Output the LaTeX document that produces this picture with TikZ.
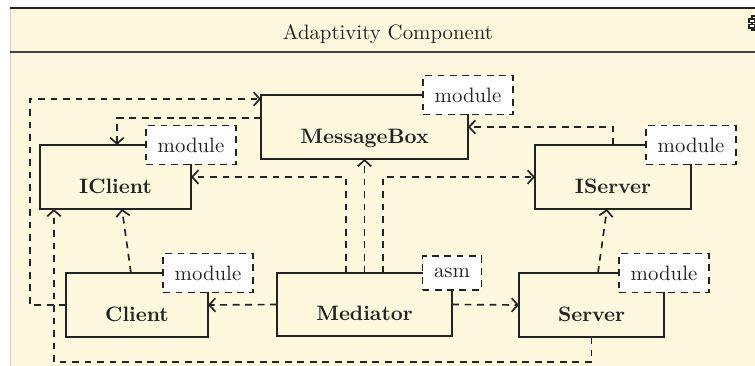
\documentclass[tikz,border=0pt]{standalone}
\usetikzlibrary{arrows.meta,calc}
\definecolor{bgc}{RGB}{253,248,222}
\definecolor{lc}{RGB}{35,35,35}
\tikzset{
  cls/.style={draw=lc, line width=0.85pt, fill=bgc, inner sep=0pt, outer sep=0pt},
  tagbox/.style={draw=lc, line width=0.85pt, dash pattern=on 3.3pt off 2.6pt, fill=white, inner xsep=5.5pt, inner ysep=5.8pt, outer sep=0pt, text=lc},
  lbl/.style={font=\bfseries, anchor=base, text=lc},
  dep/.style={draw=lc, line width=0.8pt, dash pattern=on 3.3pt off 2.7pt, -{Straight Barb[length=3pt,width=6.5pt]}},
}
\newcommand\umlcls[7]{%
  \node[cls, minimum width={(#4-#2)*0.48pt}, minimum height={(#5-#3)*0.48pt}] (#1) at ({(#2+#4)/2},{(#3+#5)/2}) {};
  \node[lbl] (#1-l) at ([yshift=-7.7pt]#1.center) {#6};
  \node[tagbox] (#1-t) at (#1.north east) {#7};
}
\begin{document}
\begin{tikzpicture}[x=0.48pt,y=-0.48pt]
\useasboundingbox (0,0) rectangle (755,366);
\clip (0,0) rectangle (755,366);
% frame
\fill[bgc] (10,8) rectangle (760,370);
\draw[black!20, line width=0.5pt] (10.5,9) -- (10.5,370);
\draw[lc, line width=1.4pt] (10,8) -- (760,8);
\draw[lc!85, line width=1pt] (10,52) -- (760,52);
\node[text=lc] (title) at (388,34) {Adaptivity Component};
% component icon (cut at the edge)
\draw[lc, line width=0.9pt, fill=bgc] (752,16) rectangle (762,30);
\draw[lc, line width=0.9pt, fill=bgc] (749,19) rectangle (755,22.5);
\draw[lc, line width=0.9pt, fill=bgc] (749,24.5) rectangle (755,28);
% classes
\umlcls{mb}{261}{95}{468}{159}{MessageBox}{module}
\umlcls{ic}{40}{145}{191}{209}{IClient}{module}
\umlcls{is}{535}{145}{691}{209}{IServer}{module}
\umlcls{cl}{66}{273}{208}{337}{Client}{module}
\umlcls{med}{277}{273}{452}{336}{Mediator}{asm}
\umlcls{sv}{519}{273}{664}{337}{Server}{module}
% connectors
\coordinate (k1) at (30,99);
\coordinate (k3) at (54,362);
\draw[dep] (cl.west) -| (k1) -- (k1 -| mb.west);
\draw[dep] ([yshift=4.3pt]mb.west) -| ([xshift=0.7pt]ic.north);
\draw[dep] ([xshift=-8.9pt]med.north) |- (ic.east);
\draw[dep] (med.north) -- (mb.south);
\draw[dep] ([xshift=8.9pt]med.north) |- (is.west);
\draw[dep] (is.north) |- (mb.east);
\draw[dep] ([xshift=-2.9pt]cl.north) -- ([xshift=3.1pt]ic.south);
\draw[dep] (med.west) -- (cl.east);
\draw[dep] (med.east) -- (sv.west);
\draw[dep] ([xshift=3.1pt]sv.north) -- ([xshift=-2.9pt]is.south);
\draw[dep] (sv.south) |- (k3) -- (k3 |- ic.south);
\end{tikzpicture}
\end{document}
